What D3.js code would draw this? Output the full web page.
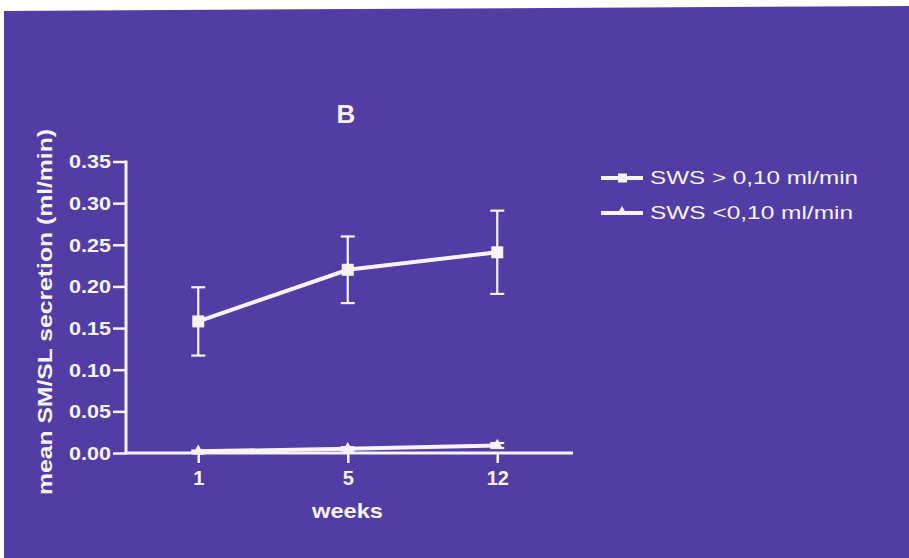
<!DOCTYPE html>
<html><head><meta charset="utf-8">
<script src="https://cdn.jsdelivr.net/npm/d3@7/dist/d3.min.js"></script>
<style>html,body{margin:0;padding:0;background:#fff;}svg{display:block;}</style>
</head><body>
<svg id="c" width="909" height="558"></svg>
<script>
const weeks = ["1", "5", "12"];
const highMean = [0.158, 0.220, 0.241];
const highErr  = [0.041, 0.040, 0.050];
const lowMean  = [0.002, 0.005, 0.009];
const lowErr   = [0.001, 0.002, 0.003];
const yTicks = [0, 0.05, 0.10, 0.15, 0.20, 0.25, 0.30, 0.35];
const seriesNames = ["SWS > 0,10 ml/min", "SWS <0,10 ml/min"];

const W = 909, H = 558;
const fg = "#f6f4f8";
const bg = "#523da4";
const svg = d3.select("#c");

// background panel (slightly skewed top edge as in scan)
svg.append("polygon").attr("points", `4,11 ${W},6 ${W},${H} 4,${H}`).attr("fill", bg);

const x0 = 126, x1 = 573, yTop = 161.5, yBot = 453;
const x = d3.scalePoint().domain(weeks).range([123.5, 572]).padding(0.5);
const y = d3.scaleLinear().domain([0, 0.35]).range([yBot, yTop]);

const font = "'Liberation Sans', Arial, sans-serif";

// Y axis
const yAxis = svg.append("g").attr("transform", `translate(${x0},0)`)
  .call(d3.axisLeft(y).tickValues(yTicks).tickSize(13).tickFormat(d3.format(".2f")));
yAxis.select(".domain").attr("stroke", fg).attr("stroke-width", 3).attr("d", `M0,${yTop-1}V${yBot+1.5}`);
yAxis.selectAll(".tick line").attr("stroke", fg).attr("stroke-width", 2.5);
yAxis.selectAll(".tick text").attr("fill", fg).attr("font-family", font).attr("font-weight", "bold")
  .attr("font-size", 18).attr("x", -15).attr("dy", "0.36em")
  .attr("textLength", 42).attr("lengthAdjust", "spacingAndGlyphs");

// X axis
const xAxis = svg.append("g").attr("transform", `translate(0,${yBot})`)
  .call(d3.axisBottom(x).tickSize(10));
xAxis.select(".domain").attr("stroke", fg).attr("stroke-width", 3).attr("d", `M${x0-1.5},0H${x1}`);
xAxis.selectAll(".tick line").attr("stroke", fg).attr("stroke-width", 2.5);
xAxis.selectAll(".tick text").attr("fill", fg).attr("font-family", font).attr("font-weight", "bold")
  .attr("font-size", 20).attr("y", 32).attr("dy", 0);

// Title
svg.append("text").attr("x", 346).attr("y", 123).attr("text-anchor", "middle")
  .attr("fill", fg).attr("font-family", font).attr("font-weight", "bold").attr("font-size", 26).text("B");

// Axis labels
svg.append("text").attr("x", 347.5).attr("y", 518).attr("text-anchor", "middle")
  .attr("fill", fg).attr("font-family", font).attr("font-weight", "bold").attr("font-size", 21)
  .attr("textLength", 71).attr("lengthAdjust", "spacingAndGlyphs").text("weeks");
svg.append("text").attr("transform", "translate(52,312) rotate(-90)").attr("text-anchor", "middle")
  .attr("fill", fg).attr("font-family", font).attr("font-weight", "bold").attr("font-size", 20)
  .attr("textLength", 366).attr("lengthAdjust", "spacingAndGlyphs").text("mean SM/SL secretion (ml/min)");

// Series
const line = d3.line().x((d, i) => x(weeks[i])).y(d => y(d));
function drawSeries(means, errs, marker) {
  const g = svg.append("g");
  means.forEach((m, i) => {
    const cx = x(weeks[i]);
    g.append("line").attr("x1", cx).attr("x2", cx).attr("y1", y(m - errs[i])).attr("y2", y(m + errs[i]))
      .attr("stroke", fg).attr("stroke-width", 2.2);
    [m - errs[i], m + errs[i]].forEach(v => {
      g.append("line").attr("x1", cx - 7).attr("x2", cx + 7).attr("y1", y(v)).attr("y2", y(v))
        .attr("stroke", fg).attr("stroke-width", 2.2);
    });
  });
  g.append("path").datum(means).attr("d", line).attr("fill", "none").attr("stroke", fg).attr("stroke-width", 4);
  means.forEach((m, i) => {
    const cx = x(weeks[i]), cy = y(m);
    if (marker === "square") {
      g.append("rect").attr("x", cx - 6).attr("y", cy - 6).attr("width", 12).attr("height", 12).attr("fill", fg);
    } else {
      g.append("path").attr("d", d3.symbol(d3.symbolTriangle, 60)()).attr("transform", `translate(${cx},${cy})`).attr("fill", fg);
    }
  });
}
drawSeries(highMean, highErr, "square");
drawSeries(lowMean, lowErr, "triangle");

// Legend
const leg = [{name: seriesNames[0], y: 178, m: "square", len: 208}, {name: seriesNames[1], y: 213, m: "triangle", len: 203}];
leg.forEach(l => {
  svg.append("line").attr("x1", 601).attr("x2", 643).attr("y1", l.y).attr("y2", l.y).attr("stroke", fg).attr("stroke-width", 4);
  if (l.m === "square") svg.append("rect").attr("x", 618).attr("y", l.y - 4.5).attr("width", 9).attr("height", 9).attr("fill", fg);
  else svg.append("path").attr("d", d3.symbol(d3.symbolTriangle, 45)()).attr("transform", `translate(622,${l.y - 1})`).attr("fill", fg);
  svg.append("text").attr("x", 650).attr("y", l.y + 6).attr("fill", fg).attr("font-family", font)
    .attr("font-size", 18).attr("textLength", l.len).attr("lengthAdjust", "spacingAndGlyphs").text(l.name);
});
</script>
</body></html>
